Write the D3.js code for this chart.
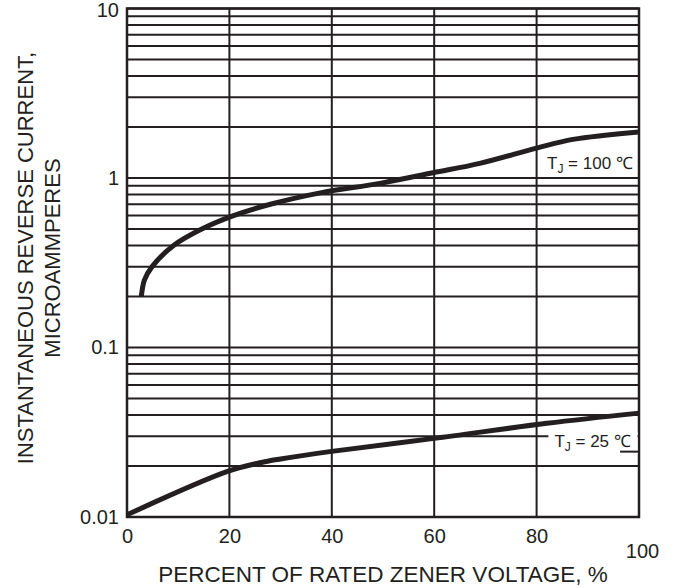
<!DOCTYPE html>
<html>
<head>
<meta charset="utf-8">
<script src="https://cdn.jsdelivr.net/npm/d3@7"></script>
<style>
  body { margin: 0; background: #fff; }
  svg text { font-family: "Liberation Sans", Arial, Helvetica, sans-serif; fill: #231f20; }
</style>
</head>
<body>
<div id="chart"></div>
<script>
// values
var pct_100c = [2.8, 3.4, 4.9, 9.1, 14.6, 20.8, 28, 38, 49.4, 59.8, 68.9, 80, 87.1, 100];
var cur_100c = [0.2, 0.25, 0.3, 0.4, 0.5, 0.6, 0.7, 0.82, 0.93, 1.074, 1.22, 1.50, 1.69, 1.87];

var pct_25c = [0, 19.5, 26, 30, 39.6, 60, 82, 100];
var cur_25c = [0.0103, 0.0185, 0.0209, 0.022, 0.0243, 0.0291, 0.0357, 0.041];

var x_ticks = [0, 20, 40, 60, 80, 100];
var y_ticks = [0.01, 0.1, 1, 10];
var y_tick_labels = ["0.01", "0.1", "1", "10"];

var label_text = ["100", "25"];
var label_pct = [98.8, 98.4];
var label_cur = [1.13, 0.0259];

var width = 678;
var height = 588;
var margin = ({top: 8.5, right: 39, bottom: 71, left: 127});
var ink = "#231f20";

var x = d3.scaleLinear()
        .domain([0, 100])
        .range([margin.left, width - margin.right]);
var y = d3.scaleLog()
        .domain([0.01, 10])
        .range([height - margin.bottom, margin.top]);

var svg = d3.select("#chart")
    .append("svg")
    .attr("width", width)
    .attr("height", height);

////////////////////////////////////////////////////////////////////////////////
// grid
svg.append("g")
    .selectAll("line")
    .data(y.ticks())
    .enter()
    .append("line")
    .attr("x1", x(0))
    .attr("x2", x(100))
    .attr("y1", function(d) { return y(d); })
    .attr("y2", function(d) { return y(d); })
    .attr("stroke", ink)
    .attr("stroke-width", 2);

svg.append("g")
    .selectAll("line")
    .data(x_ticks)
    .enter()
    .append("line")
    .attr("x1", function(d) { return x(d); })
    .attr("x2", function(d) { return x(d); })
    .attr("y1", y(0.01))
    .attr("y2", y(10))
    .attr("stroke", ink)
    .attr("stroke-width", 2);

svg.append("rect")
    .attr("x", x(0))
    .attr("y", y(10))
    .attr("width", x(100) - x(0))
    .attr("height", y(0.01) - y(10))
    .attr("fill", "none")
    .attr("stroke", ink)
    .attr("stroke-width", 2.5);

////////////////////////////////////////////////////////////////////////////////
// axes (labels only, the grid does the lines)
var x_axis = svg.append("g")
    .attr("transform", "translate(0," + y(0.01) + ")")
    .call(d3.axisBottom(x).tickValues(x_ticks).tickSize(0).tickPadding(12));
x_axis.select(".domain").remove();
x_axis.selectAll("text")
    .style("font-size", "20px")
    .attr("dy", function(d) { return d == 100 ? "1.45em" : "0.71em"; })
    .attr("dx", function(d) { return d == 100 ? "0.15em" : "0"; });

var y_axis = svg.append("g")
    .attr("transform", "translate(" + x(0) + ",0)")
    .call(d3.axisLeft(y).tickValues(y_ticks).tickSize(0).tickPadding(8)
        .tickFormat(function(d, i) { return y_tick_labels[i]; }));
y_axis.select(".domain").remove();
y_axis.selectAll("text")
    .style("font-size", "20px")
    .attr("dy", function(d) { return d == 10 ? "0.4em" : "0.32em"; });

svg.append("text")
    .attr("x", (x(0) + x(100)) / 2)
    .attr("y", 582)
    .attr("text-anchor", "middle")
    .style("font-size", "22.5px")
    .text("PERCENT OF RATED ZENER VOLTAGE, %");

var y_title = svg.append("text")
    .attr("transform", "translate(33,258) rotate(-90)")
    .attr("text-anchor", "middle")
    .style("font-size", "22px");
y_title.append("tspan")
    .attr("x", 0)
    .attr("y", 0)
    .text("INSTANTANEOUS REVERSE CURRENT,");
y_title.append("tspan")
    .attr("x", 0)
    .attr("y", 27)
    .text("MICROAMMPERES");

////////////////////////////////////////////////////////////////////////////////
// curves
var curve_line = d3.line()
    .x(function(d) { return x(d[0]); })
    .y(function(d) { return y(d[1]); })
    .curve(d3.curveCatmullRom.alpha(0.5));

var curves = [d3.zip(pct_100c, cur_100c), d3.zip(pct_25c, cur_25c)];
svg.append("g")
    .selectAll("path")
    .data(curves)
    .enter()
    .append("path")
    .attr("d", curve_line)
    .attr("fill", "none")
    .attr("stroke", ink)
    .attr("stroke-width", 5)
    .attr("stroke-linejoin", "round");

////////////////////////////////////////////////////////////////////////////////
// T_J labels
var labels = svg.append("g")
    .selectAll("g")
    .data(d3.range(label_text.length))
    .enter()
    .append("g");

labels.each(function(i) {
    var g = d3.select(this);
    var bg = g.append("rect").attr("fill", "#fff");
    var t = g.append("text")
        .attr("x", x(label_pct[i]))
        .attr("y", y(label_cur[i]))
        .attr("text-anchor", "end")
        .style("font-size", "17px");
    t.append("tspan").text("T");
    t.append("tspan").attr("dy", 4).style("font-size", "12px").text("J");
    t.append("tspan").attr("dy", -4).text(" = " + label_text[i] + " \u2103");
    var bb = t.node().getBBox();
    if (i == 1) {
        bg.attr("x", bb.x - 6)
            .attr("y", bb.y)
            .attr("width", x(100) - 1.5 - (bb.x - 6))
            .attr("height", bb.height);
    }
});

// short leftover rule at the right of the 25 label
svg.append("line")
    .attr("x1", x(96.3))
    .attr("x2", x(100))
    .attr("y1", y(0.0243))
    .attr("y2", y(0.0243))
    .attr("stroke", ink)
    .attr("stroke-width", 2);
</script>
</body>
</html>
